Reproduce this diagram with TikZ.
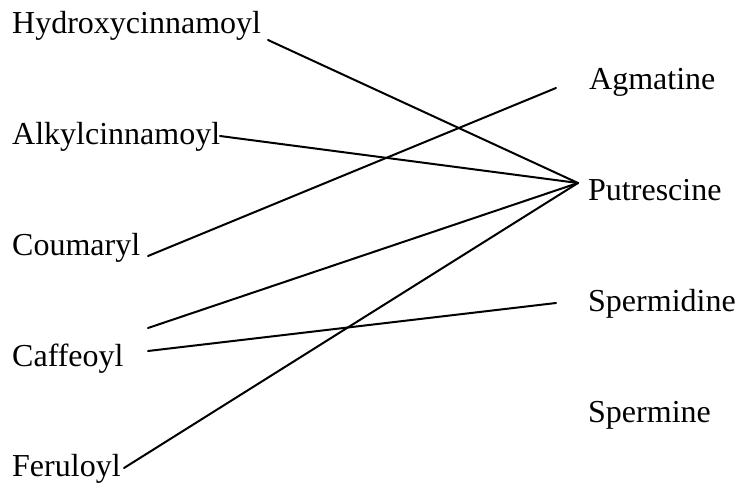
\documentclass[tikz,border=0pt]{standalone}
\usepackage{fontspec}
\setmainfont{Liberation Serif}
\begin{document}
\begin{tikzpicture}[x=1pt,y=-1pt,
  lbl/.style={anchor=base west,inner sep=0pt,font=\fontsize{32}{38}\selectfont},
  link/.style={line width=2pt,line cap=round}]
\useasboundingbox (0,0) rectangle (739,485);
% left labels
\node[lbl] (hy) at (12,33) {Hydroxycinnamoyl};
\node[lbl] (al) at (12,144) {Alkylcinnamoyl};
\node[lbl] (co) at (12,255) {Coumaryl};
\node[lbl] (ca) at (12,366) {Caffeoyl};
\node[lbl] (fe) at (12,476) {Feruloyl};
% right labels
\node[lbl] (ag) at (589,89) {Agmatine};
\node[lbl] (pu) at (588,200) {Putrescine};
\node[lbl] (sd) at (588,311) {Spermidine};
\node[lbl] (sm) at (588,422) {Spermine};
% connector ends
\coordinate (hyE) at (268,40);
\coordinate (alE) at (220,136);
\coordinate (coE) at (148,256);
\coordinate (caU) at (148,328);
\coordinate (caL) at (148,351);
\coordinate (feE) at (124,468);
\coordinate (puW) at (578,183);
\coordinate (agW) at (556,88);
\coordinate (sdW) at (556,303);
% connectors
\draw[link] (hyE) -- (puW);
\draw[link] (alE) -- (puW);
\draw[link] (coE) -- (agW);
\draw[link] (caU) -- (puW);
\draw[link] (caL) -- (sdW);
\draw[link] (feE) -- (puW);
\end{tikzpicture}
\end{document}
